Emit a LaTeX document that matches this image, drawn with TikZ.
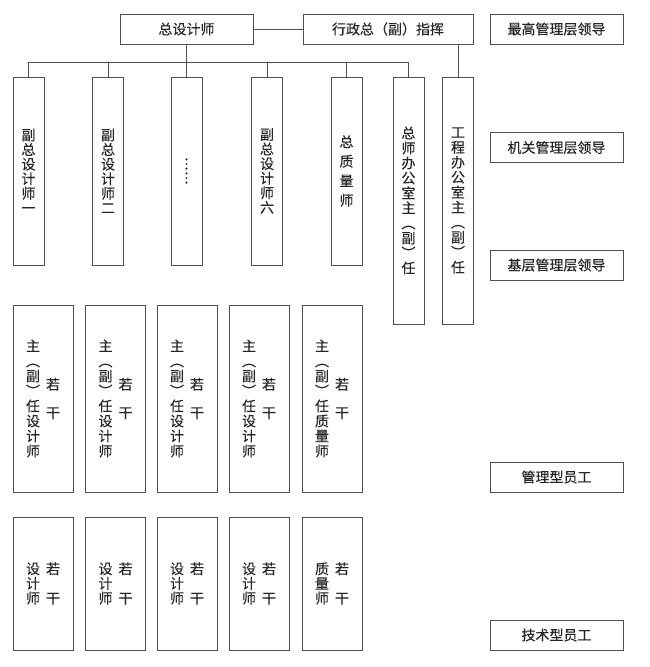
\documentclass[tikz,border=0pt]{standalone}
\usepackage{fontspec}
\setmainfont[FakeBold=0.15]{Noto Sans CJK SC}
\pgfdeclarelayer{bg}
\pgfsetlayers{bg,main}
\definecolor{linec}{HTML}{505050}
\definecolor{textc}{HTML}{262626}
\definecolor{guidec}{HTML}{A8A8A8}
\tikzset{
  box/.style={draw=linec, line width=0.9pt, fill=white, inner sep=0pt, text=textc},
  hbox/.style={box, minimum height=30pt, font=\fontsize{14}{16}\selectfont},
  lbox/.style={hbox, minimum width=133pt},
  cbox/.style={box, minimum width=31pt, align=center, font=\fontsize{14}{14.6}\selectfont},
  rbox/.style={box, minimum width=60pt, minimum height=187pt},
  sbox/.style={box, minimum width=60pt, minimum height=133pt},
  vtxt/.style={align=center, inner sep=0pt, text=textc, font=\fontsize{14}{15}\selectfont},
  wtxt/.style={vtxt, font=\fontsize{14}{28.5}\selectfont},
  conn/.style={draw=linec, line width=0.9pt},
  guide/.style={draw=guidec, dotted, line width=0.6pt},
}
\begin{document}
\begin{tikzpicture}[x=1pt, y=-1pt]
\useasboundingbox[fill=white] (0,0) rectangle (650,667);

% top level
\node[hbox, minimum width=133pt] (t1) at (186.5,29) {总设计师};
\node[hbox, minimum width=170pt] (t2) at (388,29) {行政总（副）指挥};

% right-hand level labels
\node[lbox] (L1) at (556.5,29) {最高管理层领导};
\node[lbox] (L2) at (556.5,147.5) {机关管理层领导};
\node[lbox] (L3) at (556.5,265) {基层管理层领导};
\node[lbox] (L4) at (556.5,477) {管理型员工};
\node[lbox] (L5) at (556.5,635) {技术型员工};

% second level
\node[cbox, minimum height=188pt] (c1) at (28.5,171) {副\\总\\设\\计\\师\\一};
\node[cbox, minimum height=188pt] (c2) at (108,171) {副\\总\\设\\计\\师\\二};
\node[cbox, minimum height=188pt, font=\fontsize{14}{14}\selectfont] (c3) at (186.5,171) {︙\\︙};
\node[cbox, minimum height=188pt] (c4) at (267,171) {副\\总\\设\\计\\师\\六};
\node[cbox, minimum height=188pt, font=\fontsize{14}{19.5}\selectfont] (c5) at (346.5,171) {总\\质\\量\\师};
\node[cbox, minimum height=247pt, font=\fontsize{14}{15}\selectfont] (c6) at (408.5,200.5) {总\\师\\办\\公\\室\\主\\︵\\副\\︶\\任};
\node[cbox, minimum height=247pt, font=\fontsize{14}{15}\selectfont] (c7) at (458,200.5) {工\\程\\办\\公\\室\\主\\︵\\副\\︶\\任};

% third level (management staff)
\node[rbox] (r1) at (43,398.5) {};
\node[rbox] (r2) at (115.5,398.5) {};
\node[rbox] (r3) at (187,398.5) {};
\node[rbox] (r4) at (259,398.5) {};
\node[rbox] (r5) at (332,398.5) {};
\node[vtxt] (r1a) at ([xshift=-10pt]r1.center) {主\\︵\\副\\︶\\任\\设\\计\\师};
\node[wtxt] (r1b) at ([xshift=10pt]r1.center) {若\\干};
\node[vtxt] (r2a) at ([xshift=-10pt]r2.center) {主\\︵\\副\\︶\\任\\设\\计\\师};
\node[wtxt] (r2b) at ([xshift=10pt]r2.center) {若\\干};
\node[vtxt] (r3a) at ([xshift=-10pt]r3.center) {主\\︵\\副\\︶\\任\\设\\计\\师};
\node[wtxt] (r3b) at ([xshift=10pt]r3.center) {若\\干};
\node[vtxt] (r4a) at ([xshift=-10pt]r4.center) {主\\︵\\副\\︶\\任\\设\\计\\师};
\node[wtxt] (r4b) at ([xshift=10pt]r4.center) {若\\干};
\node[vtxt] (r5a) at ([xshift=-10pt]r5.center) {主\\︵\\副\\︶\\任\\质\\量\\师};
\node[wtxt] (r5b) at ([xshift=10pt]r5.center) {若\\干};

% fourth level (technical staff)
\node[sbox] (s1) at (43,583.5) {};
\node[sbox] (s2) at (115.5,583.5) {};
\node[sbox] (s3) at (187,583.5) {};
\node[sbox] (s4) at (259,583.5) {};
\node[sbox] (s5) at (332,583.5) {};
\node[vtxt, font=\fontsize{14}{14.7}\selectfont] (s1a) at ([xshift=-10pt]s1.center) {设\\计\\师};
\node[wtxt, font=\fontsize{14}{29.4}\selectfont] (s1b) at ([xshift=10pt]s1.center) {若\\干};
\node[vtxt, font=\fontsize{14}{14.7}\selectfont] (s2a) at ([xshift=-10pt]s2.center) {设\\计\\师};
\node[wtxt, font=\fontsize{14}{29.4}\selectfont] (s2b) at ([xshift=10pt]s2.center) {若\\干};
\node[vtxt, font=\fontsize{14}{14.7}\selectfont] (s3a) at ([xshift=-10pt]s3.center) {设\\计\\师};
\node[wtxt, font=\fontsize{14}{29.4}\selectfont] (s3b) at ([xshift=10pt]s3.center) {若\\干};
\node[vtxt, font=\fontsize{14}{14.7}\selectfont] (s4a) at ([xshift=-10pt]s4.center) {设\\计\\师};
\node[wtxt, font=\fontsize{14}{29.4}\selectfont] (s4b) at ([xshift=10pt]s4.center) {若\\干};
\node[vtxt, font=\fontsize{14}{14.7}\selectfont] (s5a) at ([xshift=-10pt]s5.center) {质\\量\\师};
\node[wtxt, font=\fontsize{14}{29.4}\selectfont] (s5b) at ([xshift=10pt]s5.center) {若\\干};

% connectors
\coordinate (bar) at (0,62);
\draw[conn] (t1.east) -- (t2.west);
\draw[conn] (t1.south) -- (t1.south |- bar);
\draw[conn] (c1.north) -- (c1.north |- bar) -- (c6.north |- bar) -- (c6.north);
\draw[conn] (c2.north) -- (c2.north |- bar);
\draw[conn] (c3.north) -- (c3.north |- bar);
\draw[conn] (c4.north) -- (c4.north |- bar);
\draw[conn] (c5.north) -- (c5.north |- bar);
\draw[conn] (t2.south -| c7.north) -- (c7.north);

% dotted level guides
\begin{pgfonlayer}{bg}
\draw[guide] (t1.south east) -- (t2.south west);
\draw[guide] (t2.east) -- (L1.west);
\draw[guide] (c6.east |- L2.west) -- (L2.west);
\draw[guide] (c1.south west) -- (L3.west);
\draw[guide] (r1.south west) -- (L4.south west);
\draw[guide] (s1.south west) -- (L5.south west);
\end{pgfonlayer}
\end{tikzpicture}
\end{document}
